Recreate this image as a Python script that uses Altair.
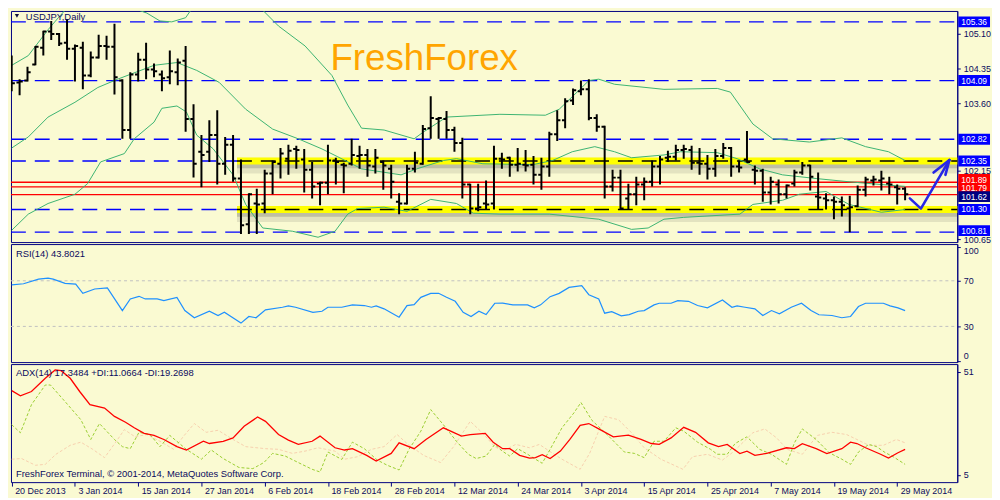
import json
import altair as alt
import pandas as pd

# ---------------- price bars (USDJPY, Daily) ----------------
open_ = [104.05,104.05,104.09,104.44,104.80,105.15,105.10,104.91,104.78,104.80,
         104.20,104.59,104.84,104.82,104.09,103.02,104.22,104.54,104.33,104.22,
         104.16,104.27,104.52,103.26,102.55,102.55,102.91,102.29,102.70,101.97,
         100.98,101.43,101.43,102.08,102.29,102.40,102.61,102.38,102.16,101.86,
         101.88,102.36,102.27,102.29,102.46,102.48,102.23,102.33,102.18,101.47,
         101.43,102.18,102.29,103.06,103.26,103.26,103.02,102.74,101.84,101.32,
         101.43,101.43,102.40,102.42,102.27,102.27,102.27,102.05,102.23,102.93,
         103.23,103.66,103.86,103.90,103.28,103.09,101.80,101.99,101.54,101.63,
         101.84,101.90,102.23,102.42,102.44,102.59,102.59,102.31,102.29,102.18,
         102.46,102.63,102.23,102.38,102.16,102.14,101.67,101.84,101.63,101.86,
         102.10,102.25,101.58,101.54,101.50,101.47,101.32,101.37,101.73,101.93,
         101.93,101.86,101.78,101.75]
high = [104.63,104.12,104.39,104.84,105.17,105.38,105.12,105.42,104.87,104.93,
        104.72,105.08,105.06,105.32,104.12,104.27,104.69,104.91,104.46,104.31,
        104.74,104.57,104.84,103.58,102.91,103.23,103.45,102.87,102.91,102.38,
        101.65,101.75,102.16,102.36,102.63,102.70,102.68,102.61,102.33,101.90,
        102.70,102.42,102.31,102.83,102.68,102.61,102.61,102.36,102.27,101.65,
        102.27,102.55,103.13,103.75,103.30,103.43,103.09,102.85,101.86,101.86,
        101.93,102.68,102.53,102.44,102.63,102.59,102.46,102.42,102.98,103.45,
        103.71,103.92,104.09,104.12,103.36,103.11,102.16,102.16,101.86,102.01,
        101.99,102.36,102.46,102.57,102.70,102.70,102.68,102.63,102.48,102.61,
        102.74,102.65,102.36,103.00,102.25,102.18,102.01,101.95,101.84,102.16,
        102.33,102.27,102.10,101.65,101.58,101.58,101.60,101.82,102.01,102.03,
        102.14,102.01,101.84,101.78]
low = [103.86,103.77,104.07,104.42,104.63,104.97,104.84,104.54,104.07,103.90,
       104.16,104.57,104.54,103.79,102.83,102.83,104.07,104.12,104.16,103.86,
       104.01,103.99,102.98,101.99,101.78,102.33,101.84,102.05,101.90,100.77,
       100.77,100.77,101.22,101.63,101.97,102.05,102.18,101.67,101.54,101.39,
       101.63,101.84,101.65,102.25,102.18,102.01,102.08,101.73,101.54,101.20,
       101.41,102.10,102.27,102.83,102.83,102.83,102.55,101.54,101.20,101.26,
       101.30,101.30,102.18,102.01,102.12,102.12,101.84,101.73,102.01,102.78,
       103.06,103.56,103.77,103.23,102.98,101.54,101.69,101.30,101.30,101.39,
       101.50,101.80,101.84,102.33,102.36,102.40,102.16,102.05,101.95,102.01,
       102.40,102.01,102.10,102.31,101.84,101.47,101.41,101.43,101.54,101.80,
       102.05,101.71,101.30,101.30,101.09,101.15,100.81,101.35,101.58,101.82,
       101.71,101.63,101.41,101.50]
close = [104.03,104.07,104.27,104.82,105.15,105.10,104.89,104.78,104.84,104.20,
         104.59,104.84,104.82,104.16,103.02,104.22,104.54,104.33,104.29,104.14,
         104.29,104.48,103.26,102.29,102.48,102.91,102.29,102.70,101.97,100.96,
         101.63,101.41,102.08,102.33,102.51,102.57,102.59,102.16,101.80,101.88,
         102.36,102.33,102.25,102.48,102.48,102.25,102.42,102.25,101.90,101.43,
         102.18,102.31,103.04,103.28,103.28,103.02,102.74,101.84,101.32,101.35,
         101.41,102.40,102.38,102.27,102.29,102.25,102.05,102.23,102.93,103.23,
         103.64,103.88,103.90,103.28,103.09,101.80,101.99,101.32,101.63,101.84,
         101.90,102.23,102.38,102.44,102.59,102.61,102.31,102.29,102.18,102.46,
         102.63,102.23,102.21,102.33,102.14,101.67,101.90,101.63,101.82,102.10,
         102.25,102.01,101.56,101.50,101.47,101.39,101.35,101.73,101.95,101.95,
         101.97,101.84,101.75,101.63]

# ---------------- Bollinger bands (bar index, price) ----------------
upper_idx = [0,2.1,4.6,5.9,8,10.5,13,14.6,17.1,18.75,20.25,22,24,26.75,28,31.25,33.75,37.1,
             40.5,42.5,44.25,47.1,50.9,52.1,55,61.75,67.5,69.25,71.75,73,74.25,76.25,82.5,
             89.25,90.9,93.75,96.25,100.9,105,108,110.9,113]
upper_val = [104.42,104.63,105.19,105.45,105.85,106.0,105.85,105.70,105.55,105.38,105.36,105.45,
             105.95,105.77,105.70,105.70,105.27,104.84,104.20,103.56,103.06,103.02,102.83,102.98,
             103.30,103.36,103.34,103.47,103.88,104.09,104.12,104.01,103.90,103.92,103.84,103.15,
             102.83,102.76,102.85,102.66,102.55,102.36]
mid_idx = [0,2.1,4.6,8,10.9,13.4,18,20.9,23.4,26.25,29.6,33,36.25,39.25,41.25,44.25,49.25,51.25,
           54.6,56.25,59.6,65.9,68.4,70.9,73.75,76.25,78.4,82.5,84.6,89.25,91.75,94.6,97.5,
           101.75,105.9,110,113]
mid_val = [102.63,102.87,103.30,103.62,103.94,104.12,104.42,104.48,104.31,104.05,103.47,103.04,
           102.83,102.61,102.44,102.18,102.05,102.18,102.36,102.40,102.29,102.27,102.36,102.55,
           102.66,102.55,102.42,102.48,102.55,102.53,102.40,102.18,102.05,101.97,101.90,101.84,101.80]
lower_idx = [0,2.1,4.6,8,9.6,11.25,14.25,15.5,18,19,20.9,22.1,23.4,25.5,28,29.6,31.75,35.5,38.75,
             40.9,42.5,43.75,47.1,50,53,56.25,58.4,61.75,68,74.25,78.4,80.5,82.5,85,92.1,93.75,
             97.5,99.6,103,105.9,110,113]
lower_val = [100.85,101.20,101.43,101.63,101.86,102.33,102.51,102.83,103.19,103.49,103.54,103.41,
             102.91,102.61,102.05,101.41,100.90,100.83,100.70,100.83,101.20,101.32,101.35,101.26,
             101.52,101.43,101.22,101.20,101.20,101.09,100.87,100.90,101.09,101.13,101.20,101.41,
             101.50,101.63,101.69,101.41,101.24,101.30]

# ---------------- RSI(14) ----------------
rsi_idx = [0,1.5,3.4,4.6,5.25,6.75,8.1,9,10.5,12.1,14,15,16.1,16.9,18.4,19.25,20.9,21.9,23.1,25,
           26.1,26.9,29,30,30.9,32.1,34.25,35,35.9,38.1,39.25,40,41.75,43.1,44.6,45.5,46.1,47.1,
           49,50,50.9,51.75,53,54,55,56.1,57.1,58.1,59.1,60,61.1,62.1,63.4,65.25,66.1,66.9,68.1,
           69.25,70.5,72.1,73,74.25,75,75.9,77.1,78.1,79.25,80,81.25,81.9,83.4,84.25,85.6,86.75,
           88,89.9,91.1,91.75,92.75,94,95,96.1,97.1,98.6,99.9,101.1,102.1,103.75,105,106.1,107.1,
           108,110.25,111.1,112.1,113]
rsi_val = [66.5,67.4,71.5,72.3,71.5,67.7,67.1,59,62.8,63.7,43.9,54.1,56.4,54.1,54.1,52.6,55.5,43.9,
           37.6,43.3,39.6,42.4,32.9,38.7,37.6,44.5,46.8,48,46.8,42.4,43.3,46.8,46.8,48.9,48.3,46.8,
           48,45.4,38.1,48.3,49.1,55.5,59,59,55.5,52,42.4,38.7,43.3,40.4,50.3,50.4,48.9,48.9,46.3,
           48.9,56.1,59,64.2,65.7,57.8,54.1,41.6,43,39.3,40.4,43.3,43.9,48.9,50.3,50.3,52.6,52,
           48.3,46.3,53.2,46.8,48,46.8,45.4,39.6,43.9,41,46.8,50.3,43.9,40.2,39.6,37.6,38.7,47.4,
           50.3,50.3,48,46.3,43.8]

# ---------------- ADX(14), +DI, -DI ----------------
adx_idx = [0,1.1,2.5,4.25,5.5,6.25,7.4,8.6,9.9,11.75,13,14.4,15.5,16.75,18,19.25,20.9,22.1,24.25,
           25,26.75,28,29.4,31.1,32.1,33.75,35,36.25,38,39,40.9,42.1,43.1,44.9,46.1,48,49,50.9,
           52.4,54.6,56.9,58,59.9,60.9,62.1,63,64.25,65.5,66.25,67.1,68.1,69.4,70.6,71.9,73,74.25,
           76.1,78,79.6,80.9,81.9,83.4,85,86.5,88.1,89.4,90.5,92.1,93,94,95.5,98,99,100,101.75,
           103.1,105,106.1,106.9,108,109.9,110.9,112.1,113]
adx_val = [42.6,40.3,42.2,48.1,51.8,51.5,48.1,42.2,36.3,34.8,31.1,28.5,26,23.5,22.6,20.8,17.6,16.1,
           20,19,20,21.5,26.7,30.8,28.9,23,20.5,18.6,20,22.3,17.1,16.1,16.7,13.7,11.2,14.6,19.3,16.7,
           20.8,26,22.3,23,23.5,19.6,16.7,16.7,13.7,12.5,12.7,14,12.3,15.6,20.8,27.1,27.9,25.5,22,
           22.7,20.8,19,18.6,21.5,26.2,24,19.3,17.6,18.6,14.5,15.6,13.7,14.6,17.1,16.7,18.9,16.7,
           14.5,16.7,19.6,19,17.1,14.2,12.5,14.9,16.4]
pdi_idx = [0,1.1,2.5,4.25,4.9,6.75,8.75,10,11.1,13,14,15,16.1,17.5,18.75,20,22.1,24,25.25,26.75,
           28.75,30.5,31.9,33,34.6,36.25,38,39,40,41.75,43.1,44.6,46.25,47.5,49,50.25,51.75,53,
           54.6,56.25,57.75,58.75,60,61.1,62.1,63,64,65.25,66.25,67.1,68.1,69.6,71.1,72,73.4,75.5,
           77.5,78.75,80,81.25,82.5,84,85,86.75,88.4,89.25,90.5,91.5,93,94.6,96.1,98,99,100,
           101.75,103.4,105,106.1,107.1,108.4,109.4,110.5,111.5,113]
pdi_val = [27.4,23.8,36.3,45.1,45.1,37.7,29.6,20.8,27.9,20.8,17.6,16.7,24,23,17.6,22.6,16.4,12,
           16.1,12.3,8.3,7.8,10.5,14.6,13.4,10.5,7.5,6.3,15.2,11.9,19.6,16.7,11.6,9.3,7.2,16.4,
           24.5,34.1,27.4,20,14.2,12.3,13.4,18.6,15.5,13.4,16.7,14.2,12,10.2,16.4,26,32.6,37.3,
           29.3,22.3,15.2,14.6,12.7,20,20,26,24.5,19.6,16.4,14.2,14.2,19,22,16.4,14.2,9.7,19.3,
           25.5,20.8,14.9,12,9.7,15.2,18.6,17.6,14.9,13.1,9.7]
mdi_idx = [0,1.25,3,4.25,5.6,7.4,8.75,10.25,11.75,13.4,14.25,15.6,17.1,18.75,20.5,21.75,23.1,
           24.6,26.1,28,29.6,32.1,33.75,35.5,37.1,38.75,40.9,42.1,43.75,45.5,47.1,48.75,50,52.1,
           54.25,55.9,58,59.6,61.1,62.1,63.75,65.5,66.75,68,69.6,71.9,73.1,75,76.75,78.4,80,82.1,
           84.9,86.1,88,89.9,91.25,93.75,95.25,96.75,98.1,100,101.9,103.75,105.6,106.9,108.4,
           110.25,111.9,113]
mdi_val = [12,12.3,9.3,9.7,14.2,18.2,19.6,16.4,12.7,20.8,25.2,22,23,20,16.4,22.3,27.9,24,24.9,
           20.8,17.6,16.7,16.4,14.6,15.6,17.1,15.6,12,13.1,16.4,17.6,23,19,13.7,10.5,17.6,28.9,
           23.5,17.6,15.6,18.6,17.1,18.6,15.6,12,7.5,14.6,31.1,29.6,23.8,17.1,12,7.5,13.1,14.2,
           11.6,15.2,23.8,25.5,21.5,16.4,14.2,22.6,24,23,20.8,18.2,18.2,20.8,19.3]

# ---------------- levels, ticks, labels ----------------
date_labels = ["20 Dec 2013", "3 Jan 2014", "15 Jan 2014", "27 Jan 2014", "6 Feb 2014",
               "18 Feb 2014", "28 Feb 2014", "12 Mar 2014", "24 Mar 2014", "3 Apr 2014",
               "15 Apr 2014", "25 Apr 2014", "7 May 2014", "19 May 2014", "29 May 2014"]
price_ticks = [105.10, 104.35, 103.60, 102.15, 100.65]
blue_levels = [105.36, 104.09, 102.82, 100.81]
band_levels = [102.35, 101.30]
red_levels = [101.89, 101.79, 101.62]
box_levels = [105.36, 104.09, 102.82, 102.35, 101.30, 100.81, 101.89, 101.79, 101.62]
box_texts = ["105.36", "104.09", "102.82", "102.35", "101.30", "100.81", "101.89", "101.79", "101.62"]
box_colors = ["#0000ff"] * 6 + ["#ff0000", "#ff0000", "#000080"]
arrow_seg = ["shaft", "shaft", "shaft", "barb1", "barb1", "barb2", "barb2"]
arrow_idx = [113.6, 115.0, 118.6, 116.6, 118.6, 118.1, 118.6]
arrow_val = [101.54, 101.32, 102.37, 102.10, 102.37, 102.05, 102.37]

# ---------------- layout / style constants ----------------
W = 954
X_DOM = [-0.09, 119.6]
P_DOM = [100.595, 105.596]
MAIN_H = 233
PX_PER_PRICE = MAIN_H / (P_DOM[1] - P_DOM[0])
BAND_START = 28.5
NAVY = "#000080"
TXT = "#0b0b5e"
FONT = "Liberation Sans"
# vertical pixel nudges for crowded price-box labels (layout only)
label_nudge_px = {101.89: -2.7, 101.79: 1.2, 101.62: 1.9, 100.81: -1.5}
BOX_HALF_PX = 5.5

xs = alt.Scale(domain=X_DOM, nice=False, zero=False)
ps = alt.Scale(domain=P_DOM, nice=False, zero=False)
rs = alt.Scale(domain=[-1.3, 102.2], nice=False, zero=False)
ads = alt.Scale(domain=[1.77, 54.42], nice=False, zero=False)

price_axis = alt.Axis(orient="right", values=price_ticks, format=".2f", tickSize=3,
                      labelPadding=3, grid=False, labelFlush=False, labelOverlap=False, title=None)
rsi_axis = alt.Axis(orient="right", values=[0, 30, 70, 100], tickSize=3, labelPadding=3,
                    grid=False, labelFlush=3, labelOverlap=False, title=None)
adx_axis = alt.Axis(orient="right", values=[5, 51], tickSize=3, labelPadding=3, grid=False,
                    labelFlush=False, labelOverlap=False, title=None)
date_axis = alt.Axis(orient="bottom", values=list(range(0, 113, 8)),
                     labelExpr=json.dumps(date_labels) + "[round(datum.value/8)]",
                     labelAlign="left", labelBaseline="top", labelOffset=3, labelPadding=0,
                     tickSize=4, domain=False, grid=False, labelFlush=False,
                     labelOverlap=False, title=None)


def xm(f):
    return alt.X(f"{f}:Q", scale=xs, axis=None)


def xa(f):
    return alt.X(f"{f}:Q", scale=xs, axis=date_axis)


def yp(f):
    return alt.Y(f"{f}:Q", scale=ps, axis=price_axis)


def yr(f):
    return alt.Y(f"{f}:Q", scale=rs, axis=rsi_axis)


def ya(f):
    return alt.Y(f"{f}:Q", scale=ads, axis=adx_axis)


n = len(close)
bars = pd.DataFrame({"idx": list(range(n)), "o": open_, "h": high, "l": low, "c": close})
bars["xo"] = bars["idx"] - 0.4
bars["xc"] = bars["idx"] + 0.4

blue_df = pd.DataFrame(
    [{"level": v, "x0": X_DOM[0], "x1": X_DOM[1]} for v in blue_levels]
    + [{"level": v, "x0": X_DOM[0], "x1": BAND_START} for v in band_levels])
band_df = pd.DataFrame([{"level": v, "x0": BAND_START, "x1": X_DOM[1]} for v in band_levels])
red_df = pd.DataFrame([{"level": v, "x0": X_DOM[0], "x1": X_DOM[1]} for v in red_levels])

bb_df = pd.concat([
    pd.DataFrame({"idx": upper_idx, "val": upper_val, "band": "upper"}),
    pd.DataFrame({"idx": mid_idx, "val": mid_val, "band": "mid"}),
    pd.DataFrame({"idx": lower_idx, "val": lower_val, "band": "lower"}),
])

box_df = pd.DataFrame({"level": box_levels, "txt": box_texts, "col": box_colors})
box_df["ty"] = [lv - label_nudge_px.get(lv, 0) / PX_PER_PRICE for lv in box_levels]
box_df["lo"] = box_df["ty"] - BOX_HALF_PX / PX_PER_PRICE
box_df["hi"] = box_df["ty"] + BOX_HALF_PX / PX_PER_PRICE

arrow_df = pd.DataFrame({"seg": arrow_seg, "k": list(range(len(arrow_seg))),
                         "idx": arrow_idx, "val": arrow_val})

# ---------------- main price panel ----------------
lv_blue = alt.Chart(blue_df).mark_rule(color="#0000ff", strokeWidth=1.3, strokeDash=[15, 9]).encode(
    x=xm("x0"), x2="x1:Q", y=yp("level"))
shadow_a = alt.Chart(band_df).transform_calculate(s="datum.level - 0.10").mark_rule(
    color="#404040", strokeWidth=16, opacity=0.12).encode(x=xm("x0"), x2="x1:Q", y=yp("s"))
shadow_b = alt.Chart(band_df).transform_calculate(s="datum.level - 0.06").mark_rule(
    color="#404040", strokeWidth=9, opacity=0.22).encode(x=xm("x0"), x2="x1:Q", y=yp("s"))
yellow = alt.Chart(band_df).mark_rule(color="#ffff00", strokeWidth=7).encode(
    x=xm("x0"), x2="x1:Q", y=yp("level"))
black_dash = alt.Chart(band_df).mark_rule(color="black", strokeWidth=1.5, strokeDash=[15, 9]).encode(
    x=xm("x0"), x2="x1:Q", y=yp("level"))
red = alt.Chart(red_df).mark_rule(color="#ff0000", strokeWidth=1.3).encode(
    x=xm("x0"), x2="x1:Q", y=yp("level"))
bb = alt.Chart(bb_df).mark_line(color="#3cb371", strokeWidth=1, clip=True).encode(
    x=xm("idx"), y=yp("val"), detail="band:N")
hl = alt.Chart(bars).mark_rule(color="black", strokeWidth=2, clip=True).encode(
    x=xm("idx"), y=yp("l"), y2="h:Q")
otick = alt.Chart(bars).mark_rule(color="black", strokeWidth=2, clip=True).encode(
    x=xm("xo"), x2="idx:Q", y=yp("o"))
ctick = alt.Chart(bars).mark_rule(color="black", strokeWidth=2, clip=True).encode(
    x=xm("idx"), x2="xc:Q", y=yp("c"))
arrow = alt.Chart(arrow_df).mark_line(color="#2626e6", strokeWidth=2.6, strokeCap="round",
                                      strokeJoin="round").encode(
    x=xm("idx"), y=yp("val"), detail="seg:N", order="k:Q")
ff = alt.Chart(pd.DataFrame({"t": ["FreshForex"]})).mark_text(
    font=FONT, fontSize=37, color="#ffa500", align="left", baseline="alphabetic").encode(
    text="t:N", x=alt.value(322), y=alt.value(60))
sym = alt.Chart(pd.DataFrame({"t": ["USDJPY,Daily"]})).mark_text(
    font=FONT, fontSize=9.5, color=TXT, align="left", baseline="middle").encode(
    text="t:N", x=alt.value(15), y=alt.value(6))
tri = alt.Chart(pd.DataFrame({"t": [1]})).mark_point(
    shape="triangle-down", filled=True, color="#101040", size=18, opacity=1).encode(
    x=alt.value(6), y=alt.value(5))
boxes = alt.Chart(box_df).mark_rect().encode(
    x=alt.value(W + 1), x2=alt.value(W + 33), y=yp("lo"), y2="hi:Q",
    color=alt.Color("col:N", scale=None))
box_txt = alt.Chart(box_df).mark_text(font=FONT, fontSize=8.5, color="white", align="center",
                                      baseline="middle").encode(
    x=alt.value(W + 17), y=yp("ty"), text="txt:N")

main = alt.layer(lv_blue, shadow_a, shadow_b, yellow, black_dash, red, bb, hl, otick, ctick,
                 arrow, ff, sym, tri, boxes, box_txt).properties(width=W, height=MAIN_H)

# ---------------- RSI panel ----------------
rsi_df = pd.DataFrame({"idx": rsi_idx, "val": rsi_val})
rsi_lv = pd.DataFrame({"level": [70, 30], "x0": X_DOM[0], "x1": X_DOM[1]})
rsi_rules = alt.Chart(rsi_lv).mark_rule(color="#c0c0c0", strokeWidth=1, strokeDash=[3, 3]).encode(
    x=xm("x0"), x2="x1:Q", y=yr("level"))
rsi_line = alt.Chart(rsi_df).mark_line(color="#1e90ff", strokeWidth=1.2).encode(
    x=xm("idx"), y=yr("val"))
rsi_lbl = alt.Chart(pd.DataFrame({"t": ["RSI(14) 43.8021"]})).mark_text(
    font=FONT, fontSize=9.5, color=TXT, align="left", baseline="middle").encode(
    text="t:N", x=alt.value(5), y=alt.value(10))
rsi = alt.layer(rsi_rules, rsi_line, rsi_lbl).properties(width=W, height=119)

# ---------------- ADX panel ----------------
adx_df = pd.DataFrame({"idx": adx_idx, "val": adx_val})
pdi_df = pd.DataFrame({"idx": pdi_idx, "val": pdi_val})
mdi_df = pd.DataFrame({"idx": mdi_idx, "val": mdi_val})
mdi_line = alt.Chart(mdi_df).mark_line(color="#f7cfae", strokeWidth=1, strokeDash=[3, 2]).encode(
    x=xa("idx"), y=ya("val"))
pdi_line = alt.Chart(pdi_df).mark_line(color="#9acd32", strokeWidth=1, strokeDash=[3, 2]).encode(
    x=xa("idx"), y=ya("val"))
adx_line = alt.Chart(adx_df).mark_line(color="#ff0000", strokeWidth=1.3).encode(
    x=xa("idx"), y=ya("val"))
adx_lbl = alt.Chart(pd.DataFrame({"t": ["ADX(14) 17.3484 +DI:11.0664 -DI:19.2698"]})).mark_text(
    font=FONT, fontSize=9.5, color=TXT, align="left", baseline="middle").encode(
    text="t:N", x=alt.value(5), y=alt.value(9))
copy_lbl = alt.Chart(pd.DataFrame({"t": ["FreshForex Terminal, \u00a9 2001-2014, MetaQuotes Software Corp."]})).mark_text(
    font=FONT, fontSize=9.5, color=TXT, align="left", baseline="middle").encode(
    text="t:N", x=alt.value(5), y=alt.value(111))
adx = alt.layer(mdi_line, pdi_line, adx_line, adx_lbl, copy_lbl).properties(width=W, height=119)

chart = alt.vconcat(main, rsi, adx, spacing=2, bounds="flush").properties(
    background="#fafad2", padding=0
).configure_view(
    stroke=NAVY, strokeWidth=1
).configure_axis(
    labelFont=FONT, labelFontSize=9, labelColor=TXT, tickColor=NAVY, domainColor=NAVY,
    tickWidth=1, domainWidth=1
)

chart.save("out.html", embed_options={"renderer": "svg", "actions": False})
